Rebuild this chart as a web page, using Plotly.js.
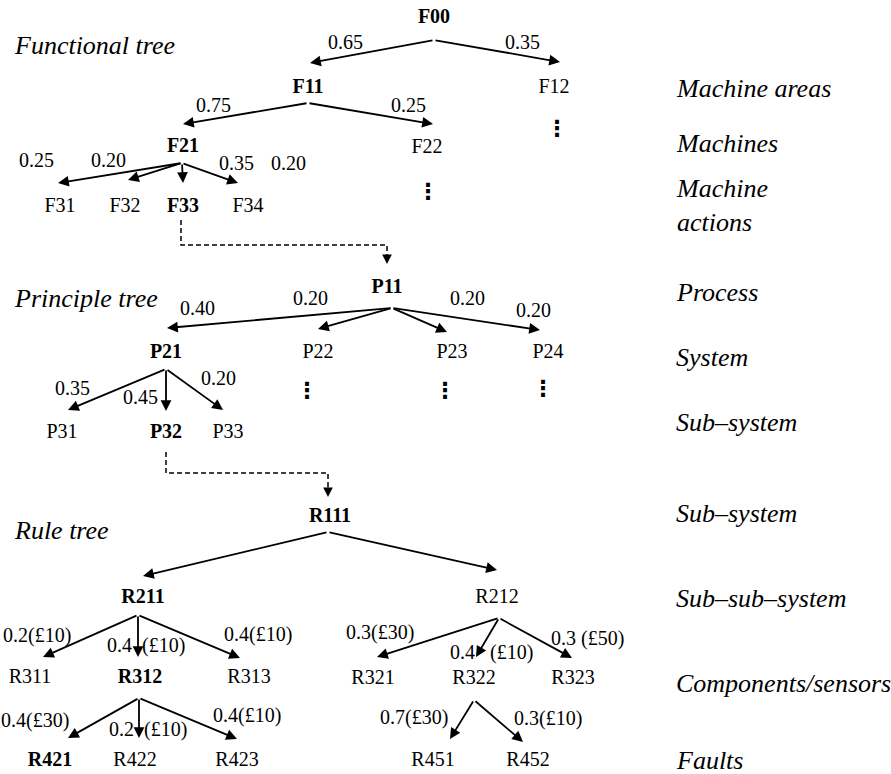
<!DOCTYPE html>
<html><head><meta charset="utf-8">
<script src="https://cdn.plot.ly/plotly-3.0.1.min.js"></script>
</head><body style="margin:0;background:#fff"><div id="chart"></div>
<script>
// ---------- data ----------
const nodeNames = ['F00','F11','F12','F21','F22','F31','F32','F33','F34',
  'P11','P21','P22','P23','P24','P31','P32','P33',
  'R111','R211','R212','R311','R312','R313','R321','R322','R323','R421','R422','R423','R451','R452'];
const boldNodes = ['F00','F11','F21','F33','P11','P21','P32','R111','R211','R312','R421'];
const continuedNodes = ['F12','F22','P22','P23','P24'];   // branches drawn with a vertical ellipsis

const edgeParents  = ['F00','F00','F11','F11','F21','F21','F21','F21',
  'P11','P11','P11','P11','P21','P21','P21',
  'R111','R111','R211','R211','R211','R212','R212','R212','R312','R312','R312','R322','R322'];
const edgeChildren = ['F11','F12','F21','F22','F31','F32','F33','F34',
  'P21','P22','P23','P24','P31','P32','P33',
  'R211','R212','R311','R312','R313','R321','R322','R323','R421','R422','R423','R451','R452'];
const edgeLabels   = ['0.65','0.35','0.75','0.25','0.25','0.20','0.35','0.20',
  '0.40','0.20','0.20','0.20','0.35','0.45','0.20',
  '','','0.2(£10)','0.4\u00a0\u00a0(£10)','0.4(£10)','0.3(£30)','0.4\u00a0\u00a0\u00a0(£10)','0.3 (£50)',
  '0.4(£30)','0.2\u00a0\u00a0(£10)','0.4(£10)','0.7(£30)','0.3(£10)'];

const levelLabels = ['Machine areas','Machines','Machine<br>actions','Process','System','Sub–system',
  'Sub–system','Sub–sub–system','Components/sensors','Faults'];
const treeTitles = ['Functional tree','Principle tree','Rule tree'];
const links = [['F33','P11'],['P32','R111']];   // dashed cross-tree links

// ---------- layout geometry (pixel grid of the drawing) ----------
const nodePos = {F00:[434,18],F11:[308,88],F12:[554,88],F21:[183,147],F22:[427,148],
  F31:[60,207],F32:[125,207],F33:[183,207],F34:[248,207],
  P11:[387,288],P21:[166,353],P22:[318,353],P23:[452,353],P24:[548,353],
  P31:[62,433],P32:[166,433],P33:[228,433],
  R111:[330,517],R211:[143,598],R212:[497,598],
  R311:[30,678],R312:[140,678],R313:[249,678],R321:[373,679],R322:[474,679],R323:[573,679],
  R421:[50,761],R422:[135,761],R423:[237,761],R451:[433,761],R452:[528,761]};
const apexPos = {F00:[434,40],F11:[308,103],F21:[182,163],P11:[392,308],P21:[166,369],
  R111:[328,532],R211:[138,615],R212:[499,618],R312:[139,698],R322:[474,700]};
const tipPos = {F11:[310,63],F12:[560,62],F21:[183,124],F22:[433,124],
  F31:[58,183],F32:[128,180],F33:[183,183],F34:[238,183],
  P21:[167,328],P22:[318,329],P23:[447,332],P24:[540,330],
  P31:[68,410],P32:[166,411],P33:[223,410],
  R211:[143,576],R212:[497,570],
  R311:[43,657],R312:[138,657],R313:[240,658],R321:[377,657],R322:[476,657],R323:[572,658],
  R421:[68,738],R422:[139,738],R423:[237,739],R451:[450,739],R452:[523,742]};
const edgeLabelPos = {F11:[345,42],F12:[522,42],F21:[213,105],F22:[408,105],
  F31:[36,160],F32:[108,160],F33:[236,163],F34:[288,163],
  P21:[197,308],P22:[310,298],P23:[467,298],P24:[533,310],
  P31:[72,388],P32:[140,397],P33:[218,378],
  R311:[37,635],R312:[146,645],R313:[258,634],R321:[380,632],R322:[491,652],R323:[587,638],
  R421:[35,720],R422:[148,729],R423:[247,715],R451:[414,717],R452:[548,718]};
const ellipsisPos = {F12:[557,130],F22:[428,193],P22:[307,392],P23:[445,392],P24:[543,390]};
const linkPath = {F33:{x:[181,181,387,387],y:[220,245,245,255],tip:[387,264]},
                  P32:{x:[166,166,328,328],y:[452,473,473,487],tip:[328,497]}};
const levelX = 674, levelY = [88,143,205,292,357,422,513,598,683,760];
const titleX = 12, titleY = [45,298,530];

// ---------- build ----------
const SERIF = 'Liberation Serif';
const traces = [];
traces.push({
  type:'scatter', mode:'text', hoverinfo:'skip', showlegend:false,
  x: nodeNames.map(n=>nodePos[n][0]), y: nodeNames.map(n=>nodePos[n][1]),
  text: nodeNames.map(n=>boldNodes.includes(n)?'<b>'+n+'</b>':n),
  textposition:'middle center', textfont:{family:SERIF,size:20,color:'#000'}
});
traces.push({
  type:'scatter', mode:'text', hoverinfo:'skip', showlegend:false,
  x: continuedNodes.map(n=>ellipsisPos[n][0]), y: continuedNodes.map(n=>ellipsisPos[n][1]),
  text: continuedNodes.map(()=>'<b>⋮</b>'),
  textposition:'middle center', textfont:{family:'DejaVu Sans',size:22,color:'#000'}
});
links.forEach(([a,b])=>{
  const p = linkPath[a];
  traces.push({type:'scatter',mode:'lines',hoverinfo:'skip',showlegend:false,
    x:p.x,y:p.y,line:{color:'#000',width:1.5,dash:'5px,3px'}});
});

const annotations = [];
edgeChildren.forEach((c,i)=>{
  const p = edgeParents[i];
  annotations.push({x:tipPos[c][0],y:tipPos[c][1],ax:apexPos[p][0],ay:apexPos[p][1],
    xref:'x',yref:'y',axref:'x',ayref:'y',text:'',font:{size:1},showarrow:true,
    arrowhead:2,arrowsize:1.2,arrowwidth:1.8,arrowcolor:'#000',standoff:0,startstandoff:0});
  if (edgeLabels[i]) {
    annotations.push({x:edgeLabelPos[c][0],y:edgeLabelPos[c][1],xref:'x',yref:'y',
      text:edgeLabels[i],showarrow:false,xanchor:'center',yanchor:'middle',
      font:{family:SERIF,size:20,color:'#000'}});
  }
});
links.forEach(([a,b])=>{
  const p = linkPath[a];
  annotations.push({x:p.tip[0],y:p.tip[1],ax:p.x[3],ay:p.y[3]-1,xref:'x',yref:'y',axref:'x',ayref:'y',
    text:'',font:{size:1},showarrow:true,arrowhead:2,arrowsize:1.2,arrowwidth:1.6,arrowcolor:'#000',standoff:0});
});
levelLabels.forEach((t,i)=>{
  annotations.push({x:levelX,y:levelY[i],xref:'x',yref:'y',text:'<i>'+t+'</i>',showarrow:false,
    xanchor:'left',yanchor:'middle',align:'left',font:{family:SERIF,size:26,color:'#000'}});
});
treeTitles.forEach((t,i)=>{
  annotations.push({x:titleX,y:titleY[i],xref:'x',yref:'y',text:'<i>'+t+'</i>',showarrow:false,
    xanchor:'left',yanchor:'middle',font:{family:SERIF,size:26,color:'#000'}});
});

const layout = {
  width:891,height:774,margin:{l:0,r:0,t:0,b:0},paper_bgcolor:'#fff',plot_bgcolor:'#fff',
  font:{family:SERIF,color:'#000'},
  xaxis:{range:[0,891],visible:false,fixedrange:true},
  yaxis:{range:[774,0],visible:false,fixedrange:true},
  annotations:annotations,showlegend:false
};
Plotly.newPlot('chart',traces,layout,{staticPlot:true,displayModeBar:false});
</script></body></html>
